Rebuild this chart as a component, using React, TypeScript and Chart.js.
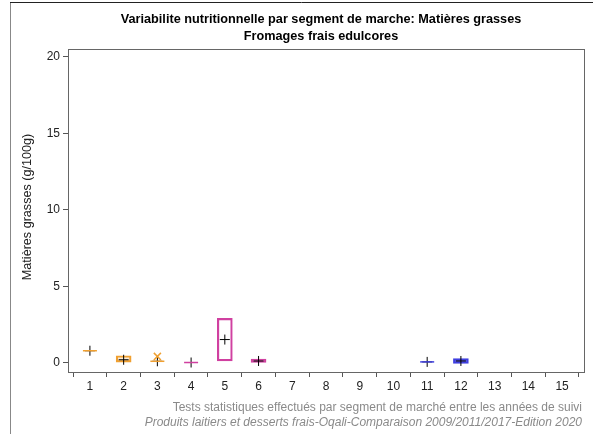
import React, { useEffect, useRef } from "react";
import { Chart, registerables } from "chart.js";
Chart.register(...registerables);

const categories = [1, 2, 3, 4, 5, 6, 7, 8, 9, 10, 11, 12, 13, 14, 15];
const yTicks = [0, 5, 10, 15, 20];

// interquartile boxes
const boxX = [2, 5, 6, 12];
const boxLow = [0.04, 0.13, 0.0, -0.04];
const boxHigh = [0.46, 2.9, 0.25, 0.27];
const boxBorder = ["#f0a030", "#d040a0", "#d040a0", "#4040e0"];
const boxFill = ["rgba(240,160,48,0.2)", "rgba(255,255,255,0)", "rgba(214,70,160,0.3)", "rgba(64,64,230,0.7)"];

// collapsed boxes (single value lines)
const lineX = [1, 3, 4, 11];
const lineVal = [0.79, 0.1, 0.02, 0.06];
const lineColor = ["#f0a030", "#f0a030", "#d040a0", "#4040e0"];

// means
const meanX = [1, 2, 3, 4, 5, 6, 11, 12];
const meanVal = [0.79, 0.2, 0.1, 0.02, 1.52, 0.12, 0.06, 0.12];

// outliers
const outX = [3];
const outVal = [0.42];

const titleLines = [
  "Variabilite nutritionnelle par segment de marche: Matières grasses",
  "Fromages frais edulcores",
];
const yTitle = "Matières grasses (g/100g)";
const footer1 = "Tests statistiques effectués par segment de marché entre les années de suivi";
const footer2 = "Produits laitiers et desserts frais-Oqali-Comparaison 2009/2011/2017-Edition 2020";

const FONT = "'Liberation Sans', Arial, sans-serif";

export default function App() {
  const ref = useRef<HTMLCanvasElement | null>(null);
  useEffect(() => {
    document.body.style.margin = "0";
    const decor = {
      id: "decor",
      beforeDraw(chart: any) {
        const ctx = chart.ctx;
        ctx.save();
        ctx.fillStyle = "#fff";
        ctx.fillRect(0, 0, chart.width, chart.height);
        ctx.restore();
      },
      afterDraw(chart: any) {
        const ctx = chart.ctx;
        const a = chart.chartArea;
        ctx.save();
        // screenshot frame
        ctx.strokeStyle = "#888";
        ctx.lineWidth = 1;
        ctx.beginPath();
        ctx.moveTo(10.5, 2);
        ctx.lineTo(10.5, 434);
        ctx.stroke();
        ctx.strokeStyle = "#222";
        ctx.beginPath();
        ctx.moveTo(10, 2.5);
        ctx.lineTo(593, 2.5);
        ctx.stroke();
        // plot frame
        ctx.strokeStyle = "#666";
        ctx.lineWidth = 1;
        ctx.strokeRect(a.left + 0.5, a.top + 0.5, a.right - a.left, a.bottom - a.top);
        // title
        ctx.fillStyle = "#000";
        ctx.font = `bold 12.7px ${FONT}`;
        ctx.textAlign = "center";
        ctx.textBaseline = "middle";
        const cx = 321;
        ctx.fillText(titleLines[0], cx, 19);
        ctx.fillText(titleLines[1], cx, 36);
        // y title
        ctx.save();
        ctx.translate(28, 207);
        ctx.rotate(-Math.PI / 2);
        ctx.font = `12.6px ${FONT}`;
        ctx.fillStyle = "#222";
        ctx.fillText(yTitle, 0, 0);
        ctx.restore();
        // footer
        ctx.textAlign = "right";
        ctx.fillStyle = "#8a8a8a";
        ctx.font = `12px ${FONT}`;
        ctx.fillText(footer1, 582, 408);
        ctx.font = `italic 12px ${FONT}`;
        ctx.fillText(footer2, 582, 423);
        ctx.restore();
      },
    };
    const chart = new Chart(ref.current as HTMLCanvasElement, {
      type: "bar",
      data: {
        datasets: [
          {
            type: "bar",
            data: boxX.map((x, i) => ({ x, y: [boxLow[i], boxHigh[i]] })) as any,
            backgroundColor: boxFill,
            borderColor: boxBorder,
            borderWidth: 1.5,
            barThickness: 15,
            borderSkipped: false,
            order: 3,
          },
          {
            type: "scatter",
            data: meanX.map((x, i) => ({ x, y: meanVal[i] })),
            pointStyle: "cross",
            pointRadius: 5,
            pointBorderColor: "#000",
            pointBorderWidth: 1,
            order: 2,
          } as any,
          {
            type: "scatter",
            data: outX.map((x, i) => ({ x, y: outVal[i] })),
            pointStyle: "crossRot",
            pointRadius: 5,
            pointBorderColor: "#f0a030",
            pointBorderWidth: 1.5,
            order: 1,
          } as any,
          {
            type: "scatter",
            data: lineX.map((x, i) => ({ x, y: lineVal[i] })),
            pointStyle: "line",
            pointRadius: 7,
            pointBorderColor: lineColor,
            pointBackgroundColor: lineColor,
            pointBorderWidth: 1.5,
            order: 0,
          } as any,
        ],
      },
      options: {
        animation: false,
        responsive: false,
        layout: { padding: { top: 49, right: 9, left: 0, bottom: 0 } },
        plugins: { legend: { display: false }, tooltip: { enabled: false } },
        scales: {
          x: {
            type: "linear",
            min: 0.35,
            max: 15.65,
            offset: false,
            grid: { drawOnChartArea: false, drawTicks: true, tickLength: 5, color: "#555" },
            border: { display: true, color: "#666", width: 1 },
            ticks: { color: "#222", font: { family: FONT, size: 12 }, padding: 2, maxRotation: 0, autoSkip: false },
            afterBuildTicks: (s: any) => {
              s.ticks = categories.map((v) => ({ value: v }));
            },
            afterFit: (s: any) => {
              s.height = 62;
            },
          },
          y: {
            type: "linear",
            min: -0.6,
            max: 20.5,
            grid: { drawOnChartArea: false, drawTicks: true, tickLength: 5, color: "#555" },
            border: { display: true, color: "#666", width: 1 },
            ticks: { color: "#222", font: { family: FONT, size: 12 }, padding: 3 },
            afterBuildTicks: (s: any) => {
              s.ticks = yTicks.map((v) => ({ value: v }));
            },
            afterFit: (s: any) => {
              s.width = 68;
            },
          },
        },
      } as any,
      plugins: [decor],
    });
    return () => chart.destroy();
  }, []);
  return (
    <div style={{ position: "absolute", left: 0, top: 0, width: 593, height: 434 }}>
      <canvas ref={ref} width={593} height={434} style={{ width: 593, height: 434 }} />
    </div>
  );
}
